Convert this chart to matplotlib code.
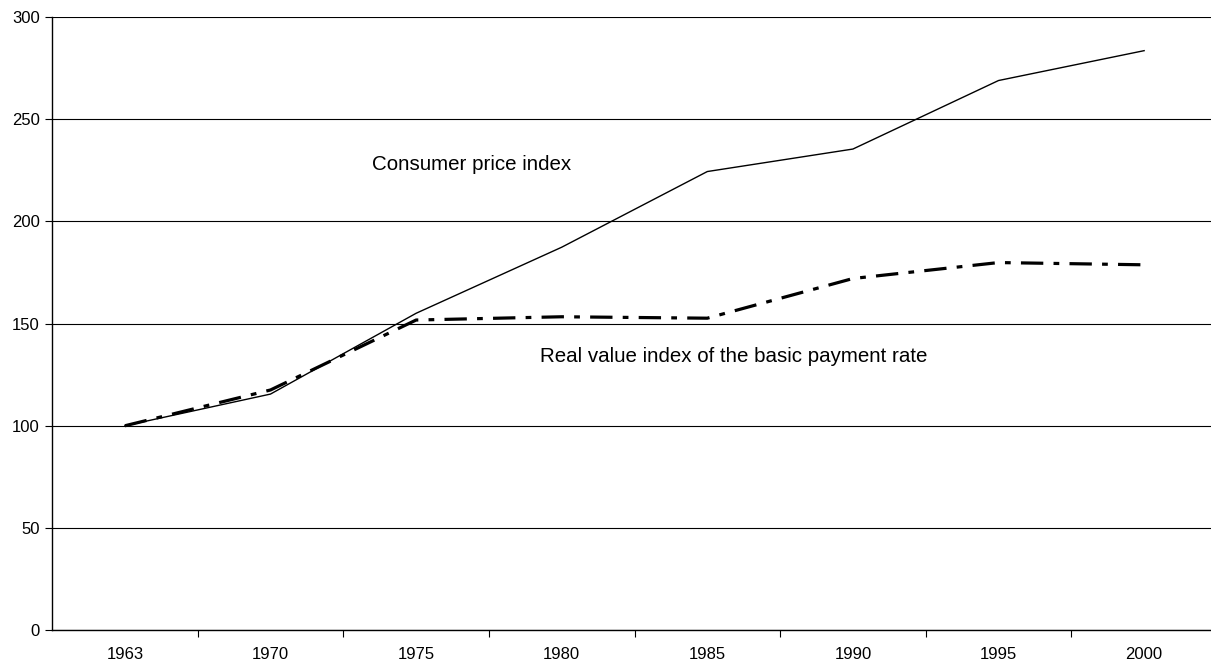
import matplotlib
matplotlib.use('Agg')
import matplotlib.pyplot as plt
from matplotlib.ticker import FixedLocator, NullFormatter

plt.rcParams['font.family'] = ['Liberation Sans', 'DejaVu Sans']

# Data (index, 1963 = 100)
years = ['1963', '1970', '1975', '1980', '1985', '1990', '1995', '2000']
consumer_price = [100, 115.5, 155, 187.3, 224.3, 235.3, 268.8, 283.4]
real_value = [100, 117.5, 151.7, 153.3, 152.6, 172.0, 179.8, 178.7]
y_ticks = [0, 50, 100, 150, 200, 250, 300]

fig = plt.figure(figsize=(12.11, 6.63), dpi=100)
# plot area runs a little past the right edge, like the original
ax = fig.add_axes([0.0430, 0.0493, 0.9619, 0.9255])

x = list(range(len(years)))

ax.plot(x, consumer_price, color='black', linewidth=1.0, solid_joinstyle='miter')
ax.plot(x, real_value, color='black', linewidth=2.3,
        linestyle=(0, (7.0, 3.2, 1.8, 3.2)), dash_capstyle='butt')

ax.text(1.70, 227.5, 'Consumer price index', fontsize=14.8, va='center', ha='left')
ax.text(2.85, 134.0, 'Real value index of the basic payment rate', fontsize=14.8,
        va='center', ha='left')

ax.set_xlim(-0.5, len(years) - 0.5)
ax.set_ylim(0, 300)

# y axis
ax.set_yticks(y_ticks)
ax.yaxis.grid(True, color='black', linewidth=0.8)
ax.set_axisbelow(True)
ax.tick_params(axis='y', direction='out', length=5, width=0.8, pad=4,
               labelsize=12, colors='black')

# x axis: ticks between categories, labels centred on categories
ax.xaxis.set_major_locator(FixedLocator([i + 0.5 for i in range(len(years))]))
ax.xaxis.set_major_formatter(NullFormatter())
ax.xaxis.set_minor_locator(FixedLocator(x))
ax.set_xticklabels(years, minor=True)
ax.tick_params(axis='x', which='major', direction='out', length=5, width=0.8)
ax.tick_params(axis='x', which='minor', length=0, pad=12, labelsize=12)

for side in ['top', 'right']:
    ax.spines[side].set_visible(False)
for side in ['left', 'bottom']:
    ax.spines[side].set_linewidth(1.0)
    ax.spines[side].set_color('black')

fig.savefig('out.png', dpi=100)
